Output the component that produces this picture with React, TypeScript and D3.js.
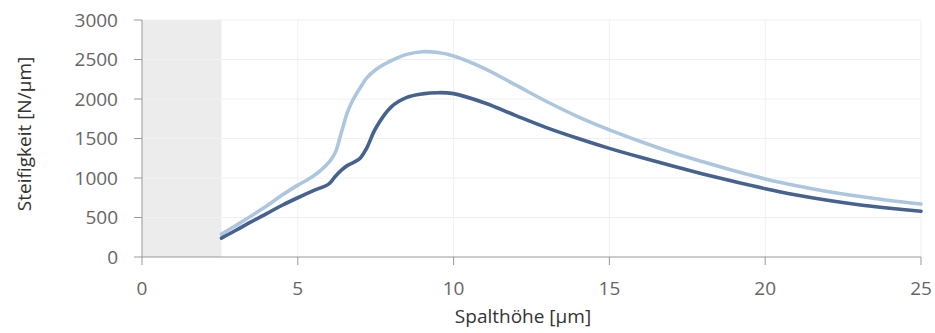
import React from "react";
import * as d3 from "d3";

const xValues = [2.55, 3, 3.5, 4, 4.5, 5, 5.5, 6, 6.2, 6.4, 6.6, 6.8, 7, 7.2, 7.5, 8, 8.5, 9, 9.5, 10, 11, 12, 13, 14, 15, 16, 17, 18, 19, 20, 21, 22, 23, 24, 25];
const lightSeries = [290, 395, 520, 645, 785, 910, 1025, 1200, 1320, 1580, 1840, 2010, 2140, 2260, 2370, 2485, 2565, 2598, 2588, 2545, 2385, 2175, 1965, 1775, 1610, 1462, 1325, 1205, 1092, 988, 902, 830, 768, 715, 670];
const darkSeries = [240, 335, 445, 550, 655, 750, 840, 925, 1020, 1100, 1160, 1200, 1250, 1370, 1630, 1900, 2020, 2065, 2080, 2068, 1950, 1790, 1635, 1500, 1375, 1262, 1155, 1052, 955, 865, 785, 718, 662, 618, 580];
const xTicks = [0, 5, 10, 15, 20, 25];
const yTicks = [0, 500, 1000, 1500, 2000, 2500, 3000];
const shadedRange = [0, 2.55];

const W = 935, H = 333;
const M = { left: 142, right: 14, top: 20, bottom: 76 };

export default function App() {
  const x = d3.scaleLinear().domain([0, 25]).range([M.left, W - M.right]);
  const y = d3.scaleLinear().domain([0, 3000]).range([H - M.bottom, M.top]);
  const line = (vals: number[]) =>
    d3.line<number>().x((_, i) => x(xValues[i])).y((v) => y(v)).curve(d3.curveCatmullRom.alpha(0.5))(vals) || "";
  const font = "'Open Sans', 'Segoe UI', sans-serif";
  return (
    <svg width={W} height={H} style={{ position: "absolute", left: 0, top: 0 }} fontFamily={font}>
      <rect x={x(shadedRange[0])} y={y(3000)} width={x(shadedRange[1]) - x(shadedRange[0])} height={y(0) - y(3000)} fill="#ececec" />
      {yTicks.filter((t) => t > 0).map((t) => (
        <line key={"gy" + t} x1={x(0)} x2={x(25)} y1={y(t)} y2={y(t)} stroke="#f0f0f0" strokeWidth={1} />
      ))}
      {xTicks.filter((t) => t > 0).map((t) => (
        <line key={"gx" + t} x1={x(t)} x2={x(t)} y1={y(0)} y2={y(3000)} stroke="#f0f0f0" strokeWidth={1} />
      ))}
      <path d={line(lightSeries)} fill="none" stroke="#adc6df" strokeWidth={3.6} strokeLinejoin="round" strokeLinecap="round" />
      <path d={line(darkSeries)} fill="none" stroke="#46628f" strokeWidth={3.6} strokeLinejoin="round" strokeLinecap="round" />
      <line x1={x(0)} x2={x(0)} y1={y(0)} y2={y(3000)} stroke="#999" />
      <line x1={x(0)} x2={x(25)} y1={y(0)} y2={y(0)} stroke="#999" />
      {yTicks.map((t) => (
        <g key={"ty" + t}>
          <line x1={x(0) - 8} x2={x(0)} y1={y(t)} y2={y(t)} stroke="#999" />
          <text x={x(0) - 24} y={y(t)} dy="0.35em" textAnchor="end" fontSize={19} fill="#666">{t}</text>
        </g>
      ))}
      {xTicks.map((t) => (
        <g key={"tx" + t}>
          <line x1={x(t)} x2={x(t)} y1={y(0)} y2={y(0) + 8} stroke="#999" />
          <text x={x(t)} y={y(0) + 38} textAnchor="middle" fontSize={19} fill="#666">{t}</text>
        </g>
      ))}
      <text x={523} y={323} textAnchor="middle" fontSize={19} fill="#333">Spalthöhe [µm]</text>
      <text transform={`translate(31, 134) rotate(-90)`} textAnchor="middle" fontSize={19} fill="#333">Steifigkeit [N/µm]</text>
    </svg>
  );
}
